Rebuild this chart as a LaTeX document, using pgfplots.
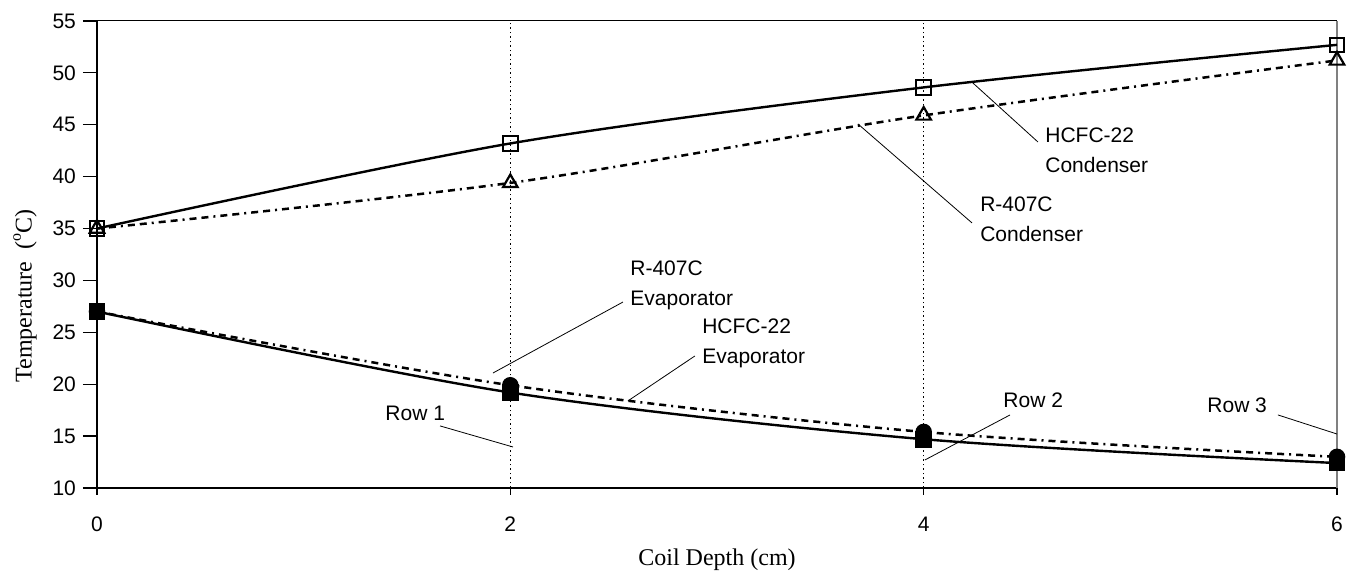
\documentclass[border=0pt]{standalone}
\usepackage{fontspec}
\setmainfont{Liberation Sans}
\newfontfamily\timesfont{Liberation Serif}
\usepackage{pgfplots}
\pgfplotsset{compat=1.18}

\begin{document}
\begin{tikzpicture}[note/.style={anchor=west, align=left, inner sep=0pt, font=\fontsize{10.5}{15}\selectfont}]
\begin{axis}[
    name=ax,
    scale only axis,
    width=620pt, height=233.5pt,
    xmin=0, xmax=6, ymin=10, ymax=55,
    xtick={0,2,4,6},
    ytick={10,15,...,55},
    axis x line*=bottom,
    axis y line*=left,
    x axis line style={line width=1pt,-},
    y axis line style={line width=1pt,-},
    tick align=outside,
    major tick length=7pt,
    tick style={black, line width=0.6pt},
    x tick style={/pgfplots/major tick length=3.5pt},
    ticklabel style={font=\fontsize{10.5}{12}\selectfont},
    /pgf/number format/assume math mode=true,
    xticklabel style={yshift=-4pt},
    xlabel={Coil Depth (cm)},
    ylabel={Temperature\ \ (\raisebox{0.45em}{\fontsize{8}{9}\selectfont o}C)},
    every axis x label/.style={at={(axis description cs:0.5,-0.154)}, anchor=center,
        font=\timesfont\fontsize{12}{14}\selectfont},
    every axis y label/.style={at={(axis description cs:-0.058,0.411)}, anchor=center, rotate=90,
        font=\timesfont\fontsize{12}{14}\selectfont},
    clip=false,
]
% frame: thin top, grey right
\draw[line width=0.5pt] (axis cs:0,55) -- (axis cs:6,55);
\draw[gray, line width=0.8pt] (axis cs:6,10) -- (axis cs:6,55);

% row markers
\addplot[black, line width=0.75pt, dash pattern=on 0.75pt off 1.5pt] coordinates {(2,10) (2,55)};
\addplot[black, line width=0.75pt, dash pattern=on 0.75pt off 1.5pt] coordinates {(4,10) (4,55)};

% HCFC-22 condenser
\addplot[black, line width=1.2pt, smooth, mark=square, mark size=3.6pt,
    mark options={solid, line width=1pt, fill=white}] coordinates {
    (0,35) (2,43.2) (4,48.6) (6,52.7)
};
% R-407C condenser
\addplot[black, line width=1.25pt, smooth, dash pattern=on 3.5pt off 2.5pt on 3.5pt off 2.5pt on 1pt off 2.5pt,
    mark=triangle, mark size=4.2pt,
    mark options={solid, line width=1.1pt, fill=white}] coordinates {
    (0,35) (2,39.4) (4,45.9) (6,51.2)
};
% HCFC-22 evaporator
\addplot[black, line width=1.2pt, smooth, mark=square*, mark size=3.6pt,
    mark options={solid}] coordinates {
    (0,27) (2,19.2) (4,14.7) (6,12.4)
};
% R-407C evaporator
\addplot[black, line width=1.25pt, smooth, dash pattern=on 3.5pt off 2.5pt on 3.5pt off 2.5pt on 1pt off 2.5pt,
    mark=*, mark size=3.5pt, mark options={solid}] coordinates {
    (0,27) (2,19.9) (4,15.4) (6,13.0)
};

% labels and leaders
\node[note] at (axis cs:4.587,42.57) {HCFC-22\\Condenser};
\draw[line width=0.4pt] (axis cs:4.238,49.03) -- (axis cs:4.553,43.34);
\node[note] at (axis cs:4.272,35.87) {R-407C\\Condenser};
\draw[line width=0.4pt] (axis cs:3.682,45.08) -- (axis cs:4.234,35.54);
\node[note] at (axis cs:2.579,29.56) {R-407C\\Evaporator};
\draw[line width=0.4pt] (axis cs:2.545,27.92) -- (axis cs:1.916,21.08);
\node[note] at (axis cs:2.927,23.97) {HCFC-22\\Evaporator};
\draw[line width=0.4pt] (axis cs:2.569,18.39) -- (axis cs:2.893,22.72);
\node[note] at (axis cs:1.394,17.23) {Row 1};
\draw[line width=0.4pt] (axis cs:1.66,15.98) -- (axis cs:2.013,13.95);
\node[note] at (axis cs:4.384,18.48) {Row 2};
\draw[line width=0.4pt] (axis cs:4.418,17.04) -- (axis cs:4.006,12.70);
\node[note] at (axis cs:5.371,18.0) {Row 3};
\draw[line width=0.4pt] (axis cs:5.714,17.04) -- (axis cs:6.0,15.2);
\end{axis}
\pgfresetboundingbox
\path[use as bounding box] ([xshift=-48.5pt,yshift=-45.5pt]ax.south west) rectangle ([xshift=10.5pt,yshift=10.5pt]ax.north east);
\end{tikzpicture}
\end{document}
